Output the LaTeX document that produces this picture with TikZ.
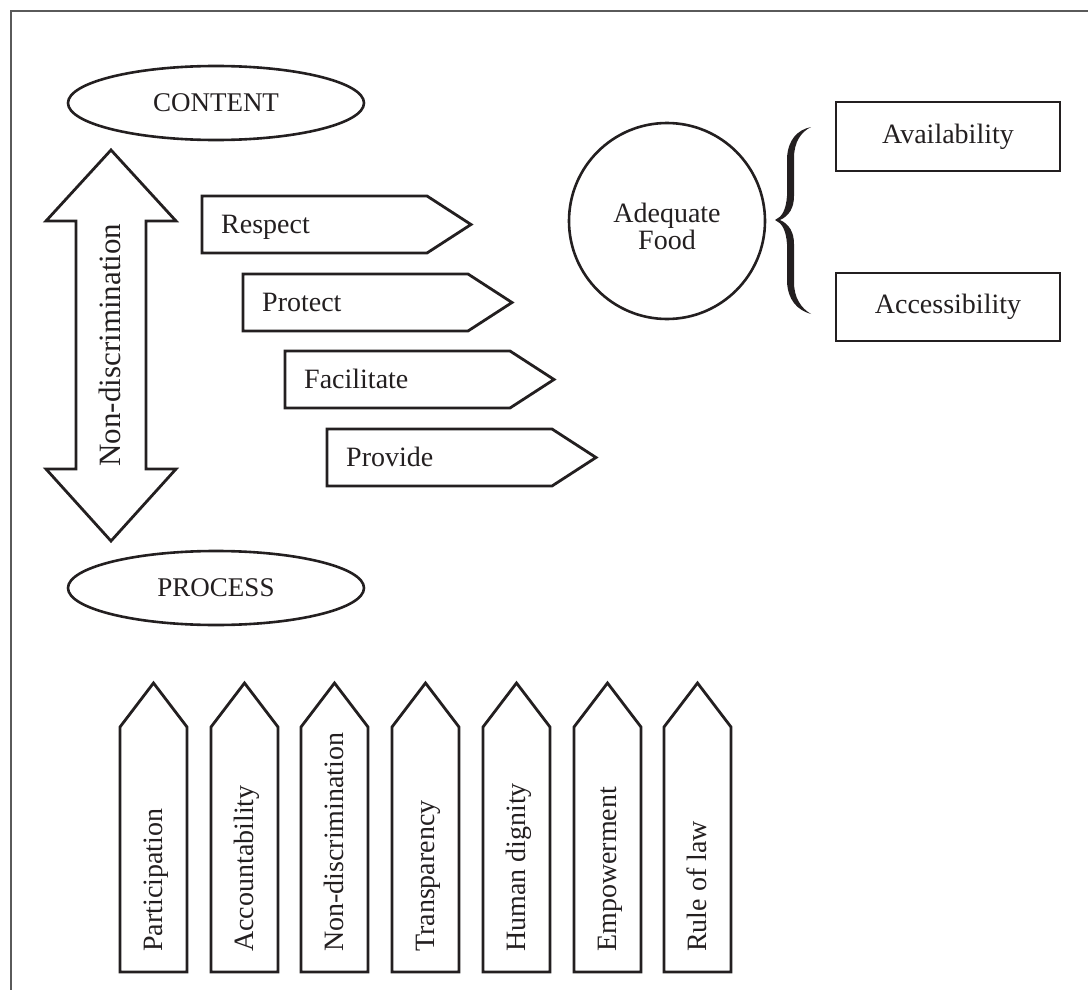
\documentclass[tikz,border=0pt]{standalone}
\usepackage{fontspec}
\setmainfont{Liberation Serif}
\usetikzlibrary{shapes.geometric}
\definecolor{ink}{HTML}{231F20}
\definecolor{framegray}{HTML}{5A5A5A}
\begin{document}
\begin{tikzpicture}[x=1pt,y=-1pt,
  shp/.style={draw=ink, line width=2.8pt, line join=miter},
  framel/.style={draw=framegray, line width=1.6pt},
  lbl/.style={font=\fontsize{28}{27}\selectfont, inner sep=0pt, text=ink},
  ell/.style={ellipse, draw=ink, line width=2.6pt, minimum width=296pt, minimum height=74pt, inner sep=0pt, font=\fontsize{27}{27}\selectfont, text=ink}]
\useasboundingbox (0,0) rectangle (1088,990);
% frame
\draw[framel] (11,990) -- (11,11) -- (1088,11);

% content / process
\node[ell] (content) at (216,103) {CONTENT};
\node[ell] (process) at (216,588) {PROCESS};

% big double arrow
\draw[shp] (111,150) -- (176,221) -- (146,221) -- (146,469) -- (176,469) -- (111,541)
  -- (46,469) -- (76,469) -- (76,221) -- (46,221) -- cycle;
\node[lbl, font=\fontsize{31}{31}\selectfont, rotate=90, anchor=base] (nondiscr) at (120,345) {Non-discrimination};

% obligations
\foreach \x/\y/\t/\n in {202/196/Respect/respect, 243/274/Protect/protect, 285/351/Facilitate/facilitate, 327/429/Provide/provide} {
  \draw[shp] (\x,\y) -- ++(225,0) -- ++(44,28.5) -- ++(-44,28.5) -- ++(-225,0) -- cycle;
  \node[lbl, anchor=base west] (\n) at (\x+19,\y+37) {\t};
}

% adequate food
\node[circle, draw=ink, line width=2.6pt, minimum size=196pt, inner sep=0pt] (food) at (667,221) {};
\node[lbl, align=center] (foodtxt) at (667,226) {Adequate\\Food};

% brace
\fill[ink] (811,127)
  .. controls (797,130) and (788,140) .. (787,158)
  -- (787,196)
  .. controls (786,210) and (782,217) .. (775,220)
  .. controls (782,223) and (786,230) .. (787,244)
  -- (787,282)
  .. controls (788,300) and (797,310) .. (811,314)
  .. controls (801,308) and (794,298) .. (794,282)
  -- (794,244)
  .. controls (794,232) and (789,224) .. (780,220)
  .. controls (789,216) and (794,208) .. (794,196)
  -- (794,158)
  .. controls (794,142) and (801,132) .. (811,127) -- cycle;

% availability / accessibility
\draw[shp] (836,102) rectangle (1060,171);
\node[lbl] (avail) at (948,137) {Availability};
\draw[shp] (836,273) rectangle (1060,341);
\node[lbl] (access) at (948,307) {Accessibility};

% principles
\foreach \L/\t/\n in {120/Participation/p1, 211/Accountability/p2, 301/Non-discrimination/p3, 392/Transparency/p4, 483/Human dignity/p5, 574/Empowerment/p6, 664/Rule of law/p7} {
  \draw[shp] (\L,972) -- (\L,727) -- (\L+33.5,683) -- (\L+67,727) -- (\L+67,972) -- cycle;
  \node[lbl, rotate=90, anchor=base west] (\n) at (\L+42.5,952) {\t};
}
\end{tikzpicture}
\end{document}
